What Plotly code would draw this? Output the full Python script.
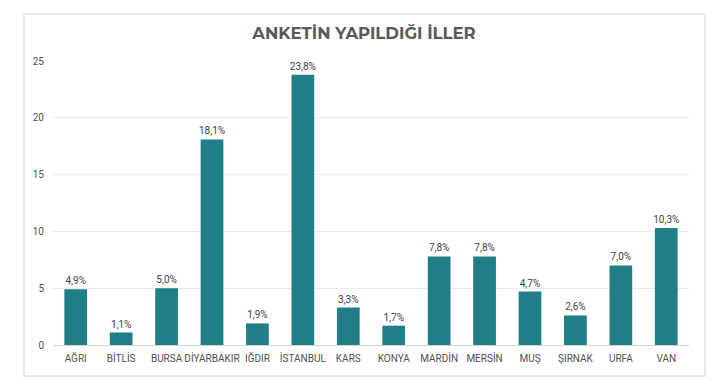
import plotly.graph_objects as go

categories = ["AĞRI", "BİTLİS", "BURSA", "DİYARBAKIR", "IĞDIR", "İSTANBUL", "KARS",
              "KONYA", "MARDİN", "MERSİN", "MUŞ", "ŞIRNAK", "URFA", "VAN"]
values = [4.9, 1.1, 5.0, 18.1, 1.9, 23.8, 3.3, 1.7, 7.8, 7.8, 4.7, 2.6, 7.0, 10.3]
y_ticks = [0, 5, 10, 15, 20, 25]

lab_font = "Roboto, sans-serif"
OFF = 8  # page offset of the figure (body margin)
W, H = 720 - OFF, 381 - OFF

fig = go.Figure(go.Bar(
    x=categories, y=values,
    marker=dict(color="#1f7e88", line=dict(width=0)),
    width=0.5,
    texttemplate="%{y:.1f}%", textposition="outside", constraintext="none",
    textfont=dict(family=lab_font, size=10, color="#404040"),
    cliponaxis=False,
))

PW, PH = 636, 284
fig.update_layout(
    width=W, height=H,
    margin=dict(l=53 - OFF, r=31, t=61 - OFF, b=36, autoexpand=False),
    paper_bgcolor="white", plot_bgcolor="white",
    separators=",.",
    showlegend=False,
    title=dict(text="<b>ANKETİN YAPILDIĞI İLLER</b>", x=(364 - OFF) / W, xanchor="center",
               y=1 - (33 - OFF) / H, yanchor="middle",
               font=dict(family="Montserrat, Open Sans, Lato, sans-serif", size=16.5, color="#595959")),
    shapes=[dict(type="rect", xref="paper", yref="paper",
                 x0=-29/PW, x1=652/PW, y0=-31/PH, y1=331/PH,
                 line=dict(color="#e4e4e4", width=1.5), layer="below")],
)
fig.update_xaxes(showgrid=False, showline=True, linecolor="#d4d4d4", linewidth=1,
                 tickfont=dict(family=lab_font, size=10, color="#505050"),
                 ticks="", tickangle=0, automargin=False, ticklabelstandoff=4)
fig.update_yaxes(range=[0, 25], tickvals=y_ticks, showgrid=True, gridcolor="#ebebeb",
                 zeroline=False, showline=False, automargin=False,
                 tickfont=dict(family=lab_font, size=10, color="#505050"),
                 ticklabelstandoff=8)

fig.write_html("out.html")
